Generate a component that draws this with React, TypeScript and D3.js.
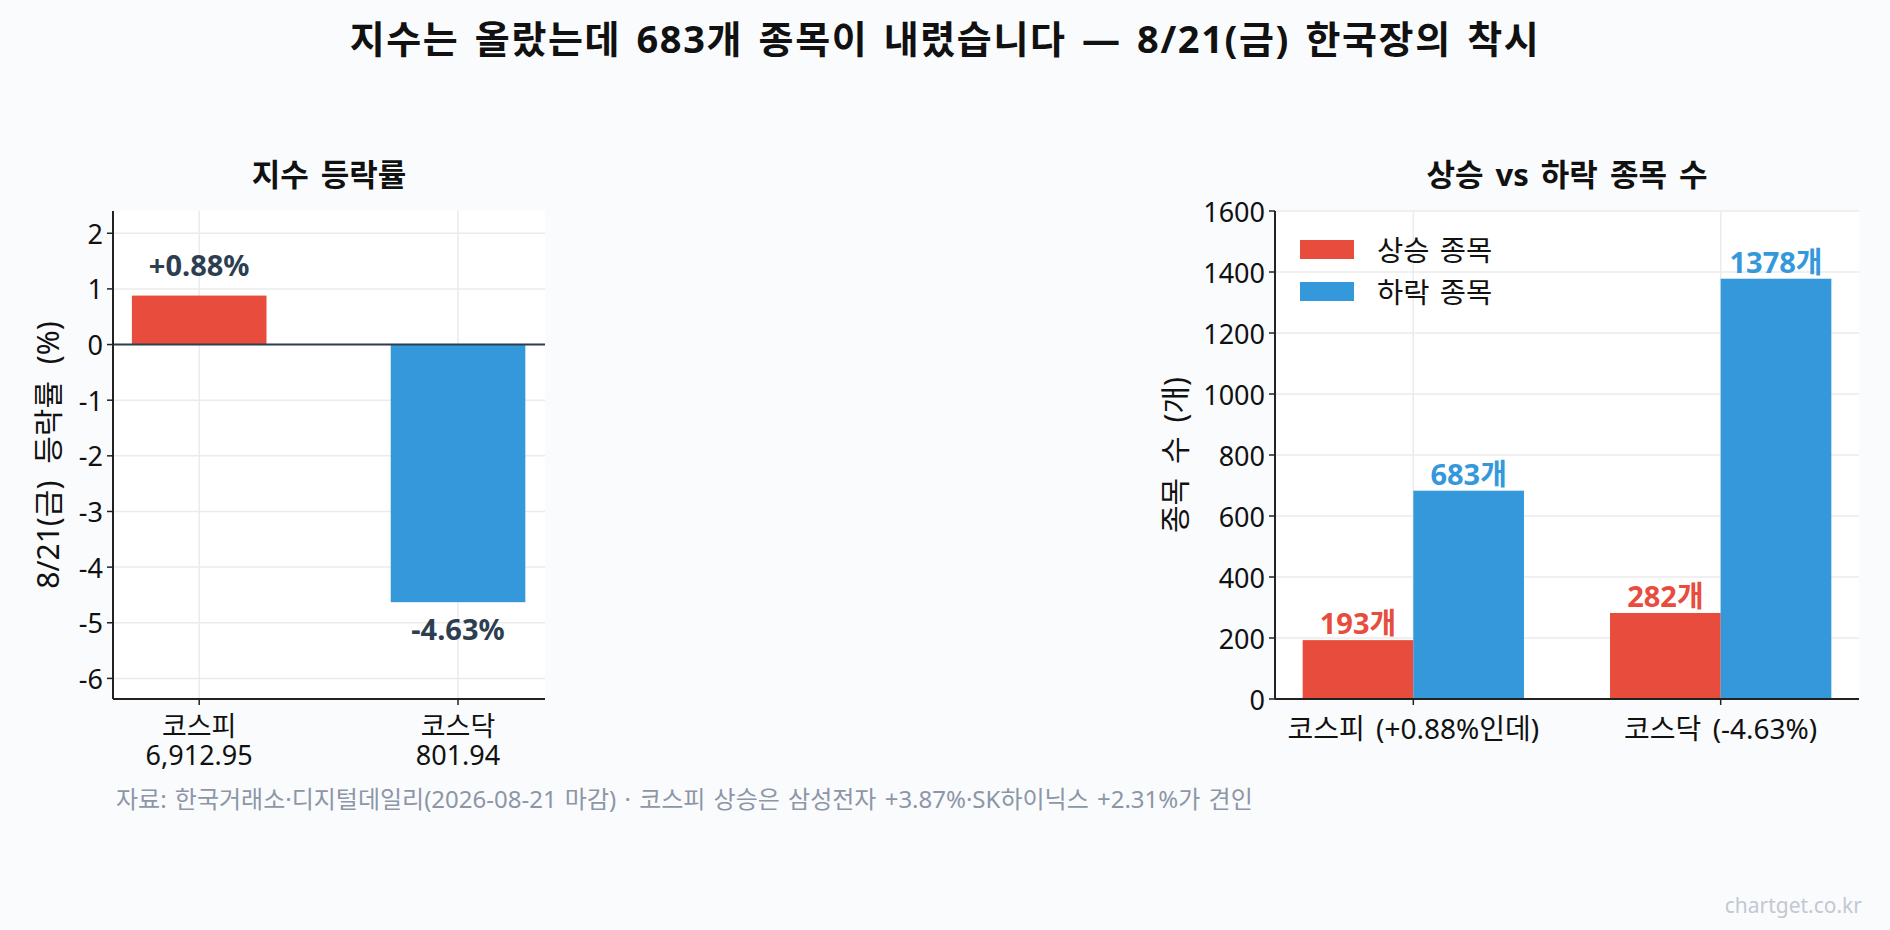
import React from "react";
import * as d3 from "d3";

const indexNames = ["코스피", "코스닥"];
const indexLevels = ["6,912.95", "801.94"];
const indexChanges = [0.88, -4.63];
const indexLabels = ["+0.88%", "-4.63%"];
const indexColors = ["#e74c3c", "#3498db"];
const pctTicks = [2, 1, 0, -1, -2, -3, -4, -5, -6];

const countCategories = ["코스피 (+0.88%인데)", "코스닥 (-4.63%)"];
const upCounts = [193, 282];
const downCounts = [683, 1378];
const countTicks = [0, 200, 400, 600, 800, 1000, 1200, 1400, 1600];
const seriesNames = ["상승 종목", "하락 종목"];
const seriesColors = ["#e74c3c", "#3498db"];

const W = 1890;
const H = 930;
const FONT = "'Noto Sans', 'Noto Sans CJK KR', sans-serif";
const GRID = "#ebebeb";
const DARK = "#2c3e50";

export default function App() {
  // Left panel
  const L = { x0: 113, x1: 545, y0: 211, y1: 699 };
  const xL = d3.scaleLinear().domain([-0.333, 1.336]).range([L.x0, L.x1]);
  const yL = d3.scaleLinear().domain([-6.37, 2.4]).range([L.y1, L.y0]);
  const bwL = 0.52;

  // Right panel
  const R = { x0: 1275, x1: 1859, y0: 211, y1: 699 };
  const xR = d3.scaleLinear().domain([-0.45, 1.45]).range([R.x0, R.x1]);
  const yR = d3.scaleLinear().domain([0, 1600]).range([R.y1, R.y0]);
  const bwR = 0.36;
  const series = [upCounts, downCounts];

  return (
    <svg width={W} height={H} style={{ display: "block", position: "absolute", left: 0, top: 0 }} fontFamily={FONT}>
      <rect x={0} y={0} width={W} height={H} fill="#fafbfd" />
      <text x={945} y={38} textAnchor="middle" dominantBaseline="central" fontSize={38} fontWeight="bold" fill="#111" letterSpacing={1.6} wordSpacing={4}>
        지수는 올랐는데 683개 종목이 내렸습니다 — 8/21(금) 한국장의 착시
      </text>

      {/* Left panel */}
      <text x={(L.x0 + L.x1) / 2} y={174} textAnchor="middle" dominantBaseline="central" fontSize={31} fontWeight="bold" fill="#111" wordSpacing={4}>
        지수 등락률
      </text>
      <rect x={L.x0} y={L.y0} width={L.x1 - L.x0} height={L.y1 - L.y0} fill="#ffffff" />
      {pctTicks.map((t) => (
        <line key={"gl" + t} x1={L.x0} x2={L.x1} y1={yL(t)} y2={yL(t)} stroke={GRID} strokeWidth={1.5} />
      ))}
      {indexNames.map((n, i) => (
        <line key={"gv" + n} x1={xL(i)} x2={xL(i)} y1={L.y0} y2={L.y1} stroke={GRID} strokeWidth={1.5} />
      ))}
      {indexChanges.map((v, i) => (
        <rect
          key={"b" + i}
          x={xL(i - bwL / 2)}
          width={xL(i + bwL / 2) - xL(i - bwL / 2)}
          y={Math.min(yL(v), yL(0))}
          height={Math.abs(yL(v) - yL(0))}
          fill={indexColors[i]}
        />
      ))}
      <line x1={L.x0} x2={L.x1} y1={yL(0)} y2={yL(0)} stroke={DARK} strokeWidth={2} />
      {indexChanges.map((v, i) => (
        <text
          key={"lb" + i}
          x={xL(i)}
          y={v >= 0 ? yL(v) - 31 : yL(v) + 26}
          textAnchor="middle"
          dominantBaseline="central"
          fontSize={29}
          fontWeight="bold"
          fill={DARK}
        >
          {indexLabels[i]}
        </text>
      ))}
      <line x1={L.x0} x2={L.x0} y1={L.y0} y2={L.y1} stroke="#222" strokeWidth={2} />
      <line x1={L.x0} x2={L.x1} y1={L.y1} y2={L.y1} stroke="#222" strokeWidth={2} />
      {pctTicks.map((t) => (
        <g key={"tl" + t}>
          <line x1={L.x0 - 6} x2={L.x0} y1={yL(t)} y2={yL(t)} stroke="#222" strokeWidth={1.5} />
          <text x={L.x0 - 10} y={yL(t)} textAnchor="end" dominantBaseline="central" fontSize={27} fill="#111">
            {t}
          </text>
        </g>
      ))}
      {indexNames.map((n, i) => (
        <g key={"xt" + n}>
          <line x1={xL(i)} x2={xL(i)} y1={L.y1} y2={L.y1 + 6} stroke="#222" strokeWidth={1.5} />
          <text x={xL(i)} y={736} textAnchor="middle" fontSize={27} fill="#111">
            <tspan x={xL(i)} y={736}>{n}</tspan>
            <tspan x={xL(i)} y={765}>{indexLevels[i]}</tspan>
          </text>
        </g>
      ))}
      <text
        transform={`translate(47, ${(L.y0 + L.y1) / 2}) rotate(-90)`}
        textAnchor="middle"
        dominantBaseline="central"
        fontSize={30}
        fill="#111"
        wordSpacing={9}
      >
        8/21(금) 등락률 (%)
      </text>

      {/* Right panel */}
      <text x={(R.x0 + R.x1) / 2} y={174} textAnchor="middle" dominantBaseline="central" fontSize={31} fontWeight="bold" fill="#111" wordSpacing={4}>
        상승 vs 하락 종목 수
      </text>
      <rect x={R.x0} y={R.y0} width={R.x1 - R.x0} height={R.y1 - R.y0} fill="#ffffff" />
      {countTicks.map((t) => (
        <line key={"rgl" + t} x1={R.x0} x2={R.x1} y1={yR(t)} y2={yR(t)} stroke={GRID} strokeWidth={1.5} />
      ))}
      {countCategories.map((c, i) => (
        <line key={"rgv" + i} x1={xR(i)} x2={xR(i)} y1={R.y0} y2={R.y1} stroke={GRID} strokeWidth={1.5} />
      ))}
      {series.map((vals, s) =>
        vals.map((v, i) => {
          const left = s === 0 ? i - bwR : i;
          return (
            <rect
              key={"rb" + s + i}
              x={xR(left)}
              width={xR(left + bwR) - xR(left)}
              y={yR(v)}
              height={yR(0) - yR(v)}
              fill={seriesColors[s]}
            />
          );
        })
      )}
      {series.map((vals, s) =>
        vals.map((v, i) => {
          const cx = s === 0 ? i - bwR / 2 : i + bwR / 2;
          return (
            <text
              key={"rl" + s + i}
              x={xR(cx)}
              y={yR(v) - 6}
              textAnchor="middle"
              fontSize={29}
              fontWeight="bold"
              fill={seriesColors[s]}
            >
              {v}개
            </text>
          );
        })
      )}
      <line x1={R.x0} x2={R.x0} y1={R.y0} y2={R.y1} stroke="#222" strokeWidth={2} />
      <line x1={R.x0} x2={R.x1} y1={R.y1} y2={R.y1} stroke="#222" strokeWidth={2} />
      {countTicks.map((t) => (
        <g key={"rtl" + t}>
          <line x1={R.x0 - 6} x2={R.x0} y1={yR(t)} y2={yR(t)} stroke="#222" strokeWidth={1.5} />
          <text x={R.x0 - 10} y={yR(t)} textAnchor="end" dominantBaseline="central" fontSize={27} fill="#111">
            {t}
          </text>
        </g>
      ))}
      {countCategories.map((c, i) => (
        <g key={"rxt" + i}>
          <line x1={xR(i)} x2={xR(i)} y1={R.y1} y2={R.y1 + 6} stroke="#222" strokeWidth={1.5} />
          <text x={xR(i)} y={728} textAnchor="middle" dominantBaseline="central" fontSize={28} fill="#111" wordSpacing={4}>
            {c}
          </text>
        </g>
      ))}
      <text
        transform={`translate(1174, ${(R.y0 + R.y1) / 2}) rotate(-90)`}
        textAnchor="middle"
        dominantBaseline="central"
        fontSize={30}
        fill="#111"
        wordSpacing={6}
      >
        종목 수 (개)
      </text>
      {seriesNames.map((n, s) => (
        <g key={"lg" + s}>
          <rect x={1300} y={240 + s * 42} width={54} height={19} fill={seriesColors[s]} />
          <text x={1377} y={249.5 + s * 42} dominantBaseline="central" fontSize={28.5} fill="#111" wordSpacing={3}>
            {n}
          </text>
        </g>
      ))}

      <text x={116} y={798} dominantBaseline="central" fontSize={24} fill="#8d96a7" wordSpacing={2}>
        자료: 한국거래소·디지털데일리(2026-08-21 마감) · 코스피 상승은 삼성전자 +3.87%·SK하이닉스 +2.31%가 견인
      </text>
      <text x={1862} y={905} textAnchor="end" dominantBaseline="central" fontSize={21} fill="#c3c8d1">
        chartget.co.kr
      </text>
    </svg>
  );
}
